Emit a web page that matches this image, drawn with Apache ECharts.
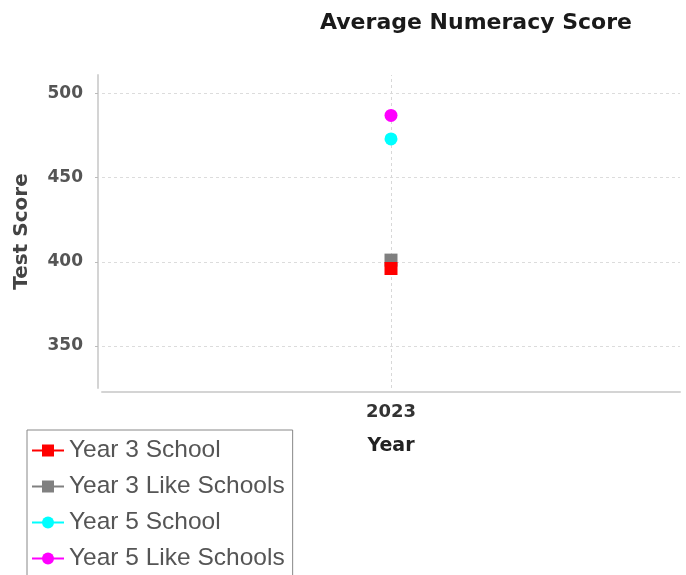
<!DOCTYPE html>
<html><head><meta charset="utf-8">
<script src="https://cdn.jsdelivr.net/npm/echarts@6/dist/echarts.min.js"></script>
<style>html,body{margin:0;padding:0;background:#fff}#c{width:686px;height:575px}</style>
</head><body><div id="c"></div>
<script>
const categories = ['2023'];
const seriesNames = ['Year 3 School', 'Year 3 Like Schools', 'Year 5 School', 'Year 5 Like Schools'];
const year3School = [396];
const year3Like = [401];
const year5School = [473];
const year5Like = [487];
const yTicks = [350, 400, 450, 500];

const colors = ['#ff0000', '#808080', '#00ffff', '#ff00ff'];
const symbols = ['rect', 'rect', 'circle', 'circle'];
const values = [year3School, year3Like, year5School, year5Like];
const zs = [6, 5, 4, 3];

const chart = echarts.init(document.getElementById('c'), null, {renderer: 'canvas'});
const series = seriesNames.map((n, i) => ({
  name: n, type: 'line', data: values[i], symbol: symbols[i], symbolSize: 13,
  showSymbol: true, z: zs[i],
  itemStyle: {color: colors[i]}, lineStyle: {color: colors[i], width: 2},
  emphasis: {disabled: true}
}));
series[0].markLine = {
  silent: true, symbol: 'none', label: {show: false}, z: 1,
  lineStyle: {color: '#d8d8d8', type: [3, 3], width: 1},
  data: [{xAxis: categories[0]}]
};
chart.setOption({
  animation: false,
  title: {text: 'Average Numeracy Score', left: 471, textAlign: 'center', top: 7,
    textStyle: {fontFamily: 'DejaVu Sans', fontWeight: 'bold', fontSize: 22, color: '#1a1a1a'}},
  grid: {left: 102, right: 6, top: 75, bottom: 187, containLabel: false},
  legend: {
    orient: 'vertical', left: 27, top: 430, height: 200, padding: [8, 8, 7, 4],
    itemWidth: 32, itemHeight: 15, itemGap: 11,
    borderColor: '#888', borderWidth: 1, backgroundColor: '#fff',
    textStyle: {fontFamily: 'Liberation Sans', fontSize: 24.5, color: '#555'},
    data: seriesNames
  },
  xAxis: {
    type: 'category', data: categories, boundaryGap: true, offset: 4,
    name: 'Year', nameLocation: 'middle', nameGap: 45,
    nameTextStyle: {fontFamily: 'DejaVu Sans', fontWeight: 'bold', fontSize: 19, color: '#222'},
    axisLine: {lineStyle: {color: '#d4d4d4', width: 2}},
    axisTick: {alignWithLabel: true, length: 4, lineStyle: {color: '#bbb'}},
    axisLabel: {margin: 11, fontFamily: 'DejaVu Sans', fontWeight: 'bold', fontSize: 18, color: '#333'},
    splitLine: {show: false}
  },
  yAxis: {
    type: 'value', min: 325, max: 511, offset: 4,
    name: 'Test Score', nameLocation: 'middle', nameGap: 66, nameRotate: 90,
    nameTextStyle: {fontFamily: 'DejaVu Sans', fontWeight: 'bold', fontSize: 20, color: '#444'},
    axisLine: {show: true, lineStyle: {color: '#d4d4d4', width: 2}},
    axisTick: {show: true, length: 3, customValues: yTicks, lineStyle: {color: '#bbb'}},
    axisLabel: {customValues: yTicks, margin: 15, fontFamily: 'DejaVu Sans', fontWeight: 'bold', fontSize: 17, color: '#555'},
    splitLine: {show: true, lineStyle: {color: '#dcdcdc', type: [3, 3], width: 1}}
  },
  series: series
});
</script></body></html>
